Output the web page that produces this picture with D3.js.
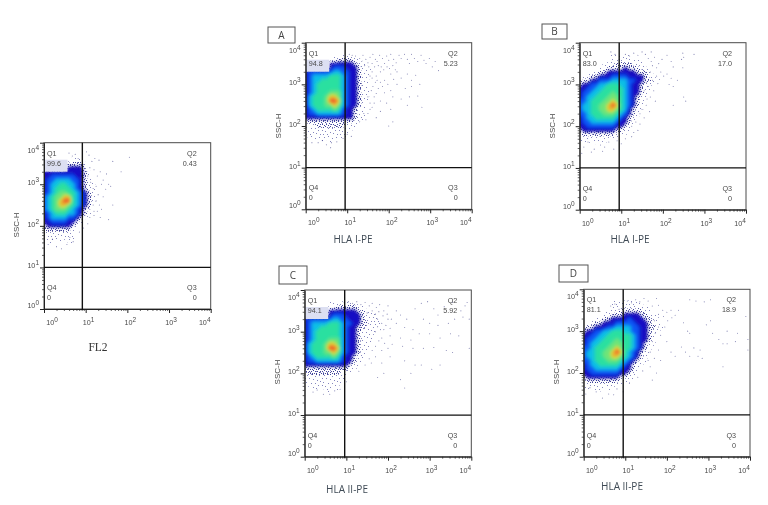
<!DOCTYPE html>
<html><head><meta charset="utf-8">
<script src="https://cdn.jsdelivr.net/npm/d3@7"></script>
<style>html,body{margin:0;background:#fff}svg{display:block;filter:blur(.35px)}</style></head><body>
<svg id="c" width="768" height="505"></svg>
<script>
// density levels, rows from log10(SSC)=3.8 downward, columns from log10(FL)=0 rightward, step 0.1
const gridF=["0","00000001","0000000111","0000002222100","1111113333100","33333333332100","33444444332100","34455554432100","34556655432110","34566665432110","34567766543210","45677886543210","45678996543210","45678876543210","45677765432100","34566655432100","34555544321000","33444433210000","23333332100000","22222221000000","11111111000000","11111111000000","01101011","0","0"];
const gridA=["0","000000010110","000001112222110","111111333333211","111111344433321100","344444455443321110","345555666543321100","345566666543321100","345666666543321100","345666666543321100","345666777543321100","356667887543321100","356667998543321100","356667787543321","345666676433211","344555555433211","333333333333211","222222222222110","111222222211100","111111111111","11111111111","01111111110","000010100"];
const gridB=["0","0000000111111","000000001111111100","0000001112222111","0000011222232221100","00011223333333222100","01122333444433332110","12233444555544332210","23344556665543321100","33445566666543321100","34455666766543321100","34556667776543211000","44566677876543210000","45566778986543210000","45566778876532110000","44566677765432100000","34556666654321100000","34455555543321000000","33444444433210000000","23333333322110000000","12222222211100000000","11111111110000000000","0110101000"];
const gridC=["0","0000001101111","000000112222211","11111133333332211","11111134443333211100","34444445544333211110","34555566654433221110","34556666654332211100","34566666654332111100","34566666654332111000","34566677754332111000","35666788754332111000","35666799854332110000","35666778754332110000","34566667643321100000","34455555543321100000","33333333333211000000","22222222222110000000","12222222211100000000","11111111111000000000","11111111110000000000","01111111100000000000","00110110100"];
const gridD=["0","00000001111111","000000011111111100","00000011122222211","0000011222333322110","0001122333343332211","01122333444443332110","12233344555544332211","23344556665544332110","33445566666654332100","34455666766654332100","34556667776654321100","44566677876654321000","45566778986543211000","45566778876543210000","44566677765432110000","34556666654321100000","34455555543321000000","33444444433211000000","23333333322110000000","12222222211100000000","11111111110000000000","0101101000"];
// sparse events [log10 FL, log10 SSC]
const ptsF=[[.6,3.75],[.68,3.68],[.75,3.72],[.82,3.62],[1.02,3.78],[1.08,3.7],[1.15,3.55],[1.22,3.62],[1.32,3.58],[1.1,3.4],[1.2,3.35],[1.28,3.2],[1.35,3.3],[1.42,3.1],[1.5,3.25],[1.38,3],[1.55,3],[1.6,2.95],[1.48,2.88],[1.3,2.75],[1.42,2.7],[1.25,2.6],[1.33,2.5],[1.28,2.35],[1.38,2.4],[1.2,2.25],[1.1,2.2],[1.35,2.2],[1.55,2.15],[1.65,3.55],[1.85,3.3],[2.05,3.65],[1.65,2.5],[.1,1.55],[.3,1.5],[.42,1.45],[.55,1.55],[.7,1.62],[.2,1.68],[.62,1.72],[.85,1.85],[.95,1.95],[1.05,2.05],[1.05,3.2],[1.12,3.05],[1.18,2.9],[1.25,2.95],[1.12,2.7],[1.18,2.5],[1.1,2.4],[1.2,2.35]];
const ptsA=[[1.05,3.72],[1.12,3.7],[1.2,3.68],[1.3,3.62],[1.38,3.7],[1.45,3.6],[1.5,3.52],[1.55,3.65],[1.62,3.72],[1.68,3.6],[1.72,3.55],[1.78,3.7],[1.85,3.62],[1.9,3.5],[1.95,3.68],[2,3.58],[2.05,3.72],[2.12,3.6],[2.18,3.52],[2.25,3.7],[2.3,3.62],[2.38,3.72],[2.45,3.6],[2.5,3.5],[2.55,3.72],[2.62,3.62],[2.7,3.55],[2.78,3.7],[2.85,3.58],[2.9,3.5],[2.98,3.62],[3.05,3.42],[3.12,3.55],[3.2,3.33],[1.6,3.3],[1.7,3.2],[1.8,3.3],[1.9,3.1],[2.05,3.25],[2.2,3.3],[2.3,3.15],[2.45,3.25],[2.55,3.1],[2.65,3.22],[2.75,3],[2.55,2.95],[2.4,2.9],[2.2,3],[2.05,2.85],[1.9,2.8],[1.75,2.9],[1.65,2.7],[1.8,2.6],[1.95,2.55],[2.1,2.7],[2.3,2.65],[2.5,2.7],[2.7,2.72],[2.45,2.5],[2.8,2.45],[2.05,2.4],[1.8,2.35],[1.6,2.45],[1.5,2.3],[1.7,2.2],[2.1,2.1],[2,2],[1.3,2.1],[1.45,2.15],[1.55,2.55],[1.58,2.85],[1.68,3.05],[.3,1.6],[.5,1.55],[.6,1.48],[.62,1.6],[.75,1.62],[.4,1.65],[.15,1.6],[.9,1.7],[1,1.8],[1.1,1.75],[1.25,3.5],[1.35,3.55],[1.42,3.45],[1.52,3.42],[1.6,3.5],[1.66,3.42],[1.75,3.45],[1.82,3.42],[1.88,3.35],[1.96,3.42],[2.02,3.38],[2.1,3.45],[2.16,3.35],[1.72,3.1],[1.8,3.05],[1.6,3.15],[1.85,2.95],[1.98,3],[2.12,3.12],[1.62,2.95],[1.7,2.78],[1.55,3.2],[1.5,2.7],[1.55,2.4],[1.4,2.3],[1.65,2.55]];
const ptsB=[[.75,3.78],[.85,3.72],[.95,3.6],[1.1,3.72],[1.2,3.68],[1.3,3.75],[1.4,3.7],[1.5,3.78],[1.58,3.72],[1.65,3.62],[1.72,3.78],[1.8,3.65],[1.9,3.5],[1.98,3.6],[2.1,3.7],[2.2,3.55],[2.25,3.42],[2.1,3.25],[2.2,3.15],[2.15,3],[2.25,2.95],[2.35,3.1],[2.45,3.6],[2.48,3.75],[2.5,3.65],[2.75,3.72],[2.48,3.4],[2.5,2.7],[2.55,2.6],[2.25,2.5],[1.7,3.3],[1.75,3.1],[1.85,3.2],[1.95,3.3],[1.65,2.95],[1.78,2.85],[1.88,3.02],[1.7,2.7],[1.82,2.6],[1.6,2.5],[1.68,2.35],[1.55,2.2],[1.45,2.05],[1.4,1.9],[1.25,1.75],[.1,1.5],[.2,1.62],[.35,1.45],[.5,1.55],[.6,1.5],[.7,1.62],[.82,1.45],[.9,1.65],[1,1.58],[1.1,1.7],[.05,1.35],[.28,1.38],[.55,1.4],[1.75,3.45],[1.85,3.4],[1.72,3.55],[1.92,3.12],[2.02,3.2],[1.6,3.05],[1.55,2.85],[1.62,2.65],[1.5,2.4],[1.45,2.3],[1.35,2.1],[1.25,2],[1.3,1.85]];
const ptsC=[[.95,3.7],[1.05,3.72],[1.15,3.68],[1.25,3.72],[1.35,3.65],[1.45,3.7],[1.55,3.62],[1.62,3.68],[1.72,3.58],[1.8,3.65],[1.9,3.5],[2,3.62],[2.2,3.5],[2.3,3.4],[2.45,3.3],[2.65,3.55],[2.8,3.68],[2.95,3.72],[3.1,3.55],[3.2,3.4],[3.35,3.6],[3.55,3.7],[3.75,3.5],[3.85,3.62],[3.9,3.7],[3.95,3.3],[3.8,3.35],[3.6,3.3],[3.45,3.2],[3.2,3.15],[3,3.2],[2.85,3.3],[2.6,3.05],[2.4,3.1],[2.2,3.2],[2,3.3],[1.85,3.2],[1.75,3.3],[1.9,3.05],[1.7,3],[1.85,2.85],[2.05,2.9],[2.3,2.85],[2.55,2.8],[2.75,2.95],[3,2.95],[3.25,2.85],[3.5,2.95],[3.7,2.9],[3.95,2.6],[3.55,2.5],[3.4,2.55],[3.1,2.62],[2.85,2.6],[2.6,2.6],[2.35,2.65],[2.1,2.7],[1.85,2.55],[1.7,2.4],[1.55,2.35],[1.85,2.25],[2.05,2.4],[2.4,2.3],[2.65,2.2],[2.8,2.2],[3.05,2.1],[3.25,2.2],[2.55,2],[2.3,1.85],[2.4,1.65],[1.75,1.9],[1.9,2],[1.3,2.05],[.3,1.6],[.45,1.5],[.6,1.5],[.72,1.58],[.2,1.55],[.85,1.62],[1,1.8],[1.5,3.45],[1.62,3.5],[1.7,3.42],[1.78,3.48],[1.88,3.38],[1.98,3.42],[2.08,3.3],[1.75,3.12],[1.82,3.05],[1.95,3.15],[2.05,3.08],[1.78,2.78],[1.92,2.72],[2,2.6],[1.7,2.65],[1.62,2.55],[1.6,2.25],[1.45,2.2]];
const ptsD=[[.65,3.6],[.75,3.65],[.85,3.52],[1.05,3.72],[1.15,3.68],[1.25,3.75],[1.35,3.7],[1.45,3.78],[1.55,3.72],[1.65,3.6],[1.75,3.78],[1.8,3.62],[1.9,3.5],[2,3.45],[2.1,3.5],[2.2,3.38],[2.28,3.5],[2.55,3.75],[2.7,3.72],[2.9,3.7],[3.05,3.75],[2.4,3.2],[2.5,3],[2.55,2.95],[2.65,2.6],[2.8,2.55],[2.95,3.15],[3.05,3.25],[3.1,2.95],[3.25,2.8],[3.45,3],[3.45,2.7],[3.65,2.75],[3.7,2.95],[3.95,2.8],[3.95,2.55],[3.9,3.35],[3.35,2.7],[3.35,2.15],[2.85,2.35],[2.75,2.4],[2.55,2.4],[2.45,2.5],[2.35,2.62],[2.1,2.5],[2.2,2.4],[2,2.75],[1.85,2.9],[1.95,3.1],[1.8,2.55],[1.7,2.35],[1.85,2.3],[1.6,2.15],[1.75,2],[1.3,1.9],[1.65,1.83],[.05,1.5],[.15,1.65],[.3,1.55],[.45,1.4],[.6,1.5],[.72,1.48],[.8,1.62],[.95,1.55],[1.1,1.75],[1.7,3.25],[1.8,3.4],[1.92,3.35],[2.02,3.25],[2.12,3.32],[1.72,2.95],[1.8,3.1],[1.65,2.75],[1.6,2.5],[1.55,2.3],[1.42,2.05]];
const majorTicks=[1,10,100,1000,10000];
const exponents=["0","1","2","3","4"];
const panels=[
 {grid:gridF,pts:ptsF,f:[44,142.7,210.7,309],gate:.92,q:["99.6","0.43"],xl:"FL2",xp:[98,351],yp:[16,225],serif:1,tag:1,box:null},
 {grid:gridA,pts:ptsA,f:[305.7,42.7,471.7,209.3],gate:.95,q:["94.8","5.23"],xl:"HLA I-PE",xp:[353,243],yp:[278,126],tag:1,box:["A",268,27,295,43]},
 {grid:gridB,pts:ptsB,f:[579.7,42.7,746,209.7],gate:.95,q:["83.0","17.0"],xl:"HLA I-PE",xp:[630,243],yp:[552,126],box:["B",542,24,567,39]},
 {grid:gridC,pts:ptsC,f:[304.7,290,471.3,456.7],gate:.96,q:["94.1","5.92"],xl:"HLA II-PE",xp:[347,493],yp:[277,372],tag:1,box:["C",279,266,307,284]},
 {grid:gridD,pts:ptsD,f:[583.7,289.3,750,456.7],gate:.95,q:["81.1","18.9"],xl:"HLA II-PE",xp:[622,490],yp:[556,372],box:["D",559,265,588,282]}];
const ramp=d3.scaleLinear().domain([2.5,3,4,5,6,7,7.6,8.3,9]).range(["#1a1a90","#1410c4","#0a55f5","#10bfe6","#2ce0a0","#70e478","#d8dc3a","#f0902c","#e8452a"]);
const solid=d3.range(2.6,9,.2);
const svg=d3.select("#c");
const defs=svg.append("defs");
[["s1",17,[[1,1],[5,0],[9,2],[13,1],[16,4],[3,4],[7,5],[11,6],[14,7],[0,8],[5,9],[9,9],[12,11],[16,11],[2,12],[7,13],[10,14],[14,15],[4,15],[0,15]]],
 ["s2",11,[[0,0],[2,1],[4,0],[6,1],[8,0],[10,2],[1,3],[3,3],[5,4],[7,3],[9,4],[0,5],[2,6],[4,6],[6,5],[8,6],[10,6],[1,8],[3,8],[5,7],[7,8],[9,8],[0,9],[2,10],[4,10],[6,10],[8,10]]]].forEach(([id,s,d])=>{
 const p=defs.append("pattern").attr("id",id).attr("width",s).attr("height",s).attr("patternUnits","userSpaceOnUse");
 p.selectAll("rect").data(d).join("rect").attr("x",e=>e[0]).attr("y",e=>e[1]).attr("width",1).attr("height",1).attr("fill","#22248a").attr("opacity",id=="s1"?.55:.85);
});
defs.append("filter").attr("id","soft").attr("x","-10%").attr("y","-10%").attr("width","120%").attr("height","120%").append("feGaussianBlur").attr("stdDeviation",1.5);
const grey="#4a4a4a",F="Arial,'Liberation Sans',sans-serif";
panels.forEach((P,n)=>{
 const [l,t,r,b]=P.f;
 const x=d3.scaleLog().domain([1,1e4]).range([l,r]),y=d3.scaleLog().domain([1,1e4]).range([b,t]);
 const g=svg.append("g");
 defs.append("clipPath").attr("id","cp"+n).append("rect").attr("x",l).attr("y",t).attr("width",r-l).attr("height",b-t);
 const W=24,H=P.grid.length,vals=[];
 P.grid.forEach(row=>{for(let i=0;i<W;i++)vals.push(+(row[i]||0))});
 const proj=d3.geoTransform({point(px,py){this.stream.point(x(Math.pow(10,px<=0?-.4:(px-.5)*.1)),y(Math.pow(10,3.8-(py-.5)*.1)))}});
 const path=d3.geoPath(proj);
 const dg=g.append("g").attr("clip-path",`url(#cp${n})`);
 dg.selectAll("circle").data(P.pts).join("circle").attr("cx",d=>x(Math.pow(10,d[0]))).attr("cy",d=>y(Math.pow(10,d[1]))).attr("r",.55).attr("fill","#24267a").attr("opacity",.55);
 dg.append("g").selectAll("path").data(d3.contours().size([W,H]).thresholds([.7,1.6])(vals)).join("path").attr("d",path).attr("fill",(d,i)=>`url(#s${i+1})`);
 dg.append("g").attr("filter","url(#soft)").selectAll("path").data(d3.contours().size([W,H]).thresholds(solid)(vals)).join("path").attr("d",path).attr("fill",d=>ramp(d.value));
 if(P.tag) g.append("rect").attr("x",l+.5).attr("y",t+17).attr("width",23).attr("height",12).attr("fill","#dcdff2");
 g.append("rect").attr("x",l).attr("y",t).attr("width",r-l).attr("height",b-t).attr("fill","none").attr("stroke",grey).attr("stroke-width",1);
 const all=[];majorTicks.forEach(m=>{if(m<1e4)for(let k=1;k<10;k++)all.push(m*k);else all.push(m)});
 const isM=v=>majorTicks.includes(v);
 const ax=g.append("g").attr("transform",`translate(0,${b})`).call(d3.axisBottom(x).tickValues(all).tickFormat("").tickSizeOuter(0));
 const ay=g.append("g").attr("transform",`translate(${l},0)`).call(d3.axisLeft(y).tickValues(all).tickFormat("").tickSizeOuter(0));
 [ax,ay].forEach((a,k)=>{a.select(".domain").attr("stroke","#222");
  a.selectAll(".tick line").attr("stroke","#222").attr("stroke-width",d=>isM(d)?1:.7);
  a.selectAll(".tick line").attr(k?"x2":"y2",d=>(k?-1:1)*(isM(d)?4:2));});
 g.append("line").attr("x1",x(Math.pow(10,P.gate))).attr("x2",x(Math.pow(10,P.gate))).attr("y1",t).attr("y2",b+1).attr("stroke","#111").attr("stroke-width",1.4);
 g.append("line").attr("x1",l).attr("x2",r).attr("y1",y(10)).attr("y2",y(10)).attr("stroke","#111").attr("stroke-width",1.2);
 const lab=(px,py,e,anchor)=>{const T=g.append("text").attr("x",px).attr("y",py).attr("font-family",F).attr("font-size",7.2).attr("fill",grey).attr("text-anchor",anchor);
  T.append("tspan").text("10");T.append("tspan").attr("dy",-3).attr("font-size",6.5).text(e);};
 const xo=[8,3,3,2,-6],yo=[-2,0,0,0,9];
 majorTicks.forEach((m,i)=>{lab(x(m)+xo[i],b+16,exponents[i],"middle");lab(l-5,y(m)+yo[i]+1,exponents[i],"end")});
 const q=(px,py,s,a)=>g.append("text").attr("x",px).attr("y",py).attr("font-family",F).attr("font-size",7.2).attr("fill",grey).attr("text-anchor",a).text(s);
 q(l+3,t+13,"Q1","start");q(l+3,t+23,P.q[0],"start");
 q(r-14,t+13,"Q2","end");q(r-14,t+23,P.q[1],"end");
 q(l+3,b-19,"Q4","start");q(l+3,b-9,"0","start");
 q(r-14,b-19,"Q3","end");q(r-14,b-9,"0","end");
 g.append("text").attr("transform",`translate(${P.yp[0]+3},${P.yp[1]}) rotate(-90)`).attr("text-anchor","middle").attr("font-family",F).attr("font-size",8).attr("fill",grey).text("SSC-H");
 g.append("text").attr("x",P.xp[0]).attr("y",P.xp[1]).attr("text-anchor","middle").attr("font-family",P.serif?"'Liberation Serif',serif":"'Open Sans',sans-serif").attr("font-size",P.serif?11.5:10).attr("fill",P.serif?"#333":"#3f4a55").text(P.xl);
 if(P.box){const [s,a,c,e,f]=P.box;
  g.append("rect").attr("x",a).attr("y",c).attr("width",e-a).attr("height",f-c).attr("fill","#fff").attr("stroke","#555").attr("stroke-width",1);
  g.append("text").attr("x",(a+e)/2).attr("y",(c+f)/2+3.5).attr("text-anchor","middle").attr("font-family","'Open Sans',sans-serif").attr("font-size",10).attr("fill","#444").text(s);}
});
</script></body></html>
